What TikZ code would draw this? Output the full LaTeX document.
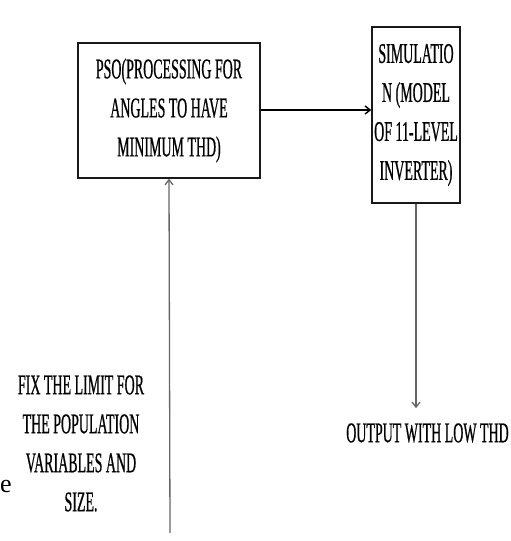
\documentclass[tikz,border=0pt]{standalone}
\usepackage{fontspec}
\setmainfont{Liberation Serif}
\newfontfamily\blockfont[FakeStretch=0.49, FakeBold=0.6]{Liberation Serif}
\usetikzlibrary{arrows.meta}
\tikzset{
  block/.style={draw=black!90, line width=1.6pt, align=center, inner sep=0pt,
    font=\blockfont\fontsize{28.5}{39}\selectfont},
  label text/.style={align=center, inner sep=0pt,
    font=\blockfont\fontsize{28.5}{39}\selectfont},
  flow/.style={-{Straight Barb[length=5pt,width=8pt]}, line width=1.4pt, black},
  feed/.style={-{Straight Barb[length=5pt,width=8pt]}, line width=1.3pt, black!60}
}
\begin{document}
\begin{tikzpicture}[x=1pt, y=1pt]
  \useasboundingbox (0,0) rectangle (511,541);
  % blocks
  \node [block, minimum width=182pt, minimum height=135pt] (pso) at (169,430.5)
    {PSO(PROCESSING FOR\\ANGLES TO HAVE\\MINIMUM THD)};
  \node [block, minimum width=88pt, minimum height=176pt] (sim) at (416,426)
    {SIMULATIO\\N (MODEL\\OF 11-LEVEL\\INVERTER)};
  % free texts
  \node [label text] (fix) at (81,97.5)
    {FIX THE LIMIT FOR\\THE POPULATION\\VARIABLES AND\\SIZE.};
  \node [label text, inner ysep=15pt] (out) at (427.5,108) {OUTPUT WITH LOW THD};
  \node [anchor=base west, inner sep=0pt, font=\fontsize{26}{30}\selectfont] (stray) at (0,48) {e};
  \coordinate (start) at (170,8);
  % connectors
  \draw [flow] (pso.east |- 0,431) -- (sim.west |- 0,431);
  \draw [feed] (start) -- (pso.south);
  \draw [feed] (sim.south) -- (sim.south |- out.north);
\end{tikzpicture}
\end{document}
